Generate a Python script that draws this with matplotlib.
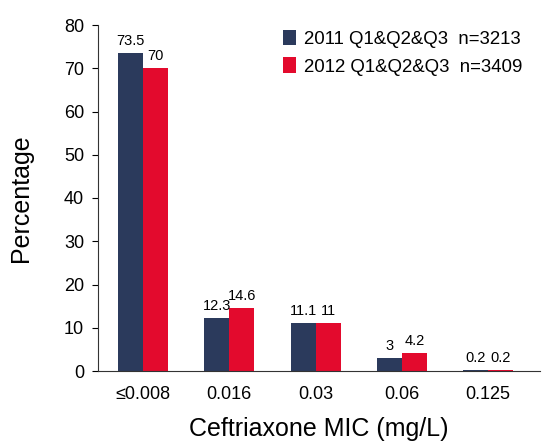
import matplotlib
matplotlib.use("Agg")
import matplotlib.pyplot as plt
import numpy as np

plt.rcParams['font.family'] = ['Liberation Sans', 'DejaVu Sans']

categories = ["≤0.008", "0.016", "0.03", "0.06", "0.125"]
vals_2011 = [73.5, 12.3, 11.1, 3, 0.2]
vals_2012 = [70, 14.6, 11, 4.2, 0.2]
labels_2011 = ["73.5", "12.3", "11.1", "3", "0.2"]
labels_2012 = ["70", "14.6", "11", "4.2", "0.2"]
series_names = ["2011 Q1&Q2&Q3  n=3213", "2012 Q1&Q2&Q3  n=3409"]

c1 = "#2b3a5c"
c2 = "#e30a2d"

fig = plt.figure(figsize=(5.42, 4.43), dpi=100)
ax = fig.add_axes([98/542, 72/443, 442/542, 346/443])

x = np.arange(len(categories))
w = 0.29
b1 = ax.bar(x - w/2, vals_2011, w, color=c1, label=series_names[0])
b2 = ax.bar(x + w/2, vals_2012, w, color=c2, label=series_names[1])

for rect, t in zip(b1, labels_2011):
    ax.text(rect.get_x() + rect.get_width()/2, rect.get_height() + 1.2, t,
            ha='center', va='bottom', fontsize=10.5)
for rect, t in zip(b2, labels_2012):
    ax.text(rect.get_x() + rect.get_width()/2, rect.get_height() + 1.2, t,
            ha='center', va='bottom', fontsize=10.5)

ax.set_xlim(-0.52, 4.6)
ax.set_ylim(0, 80)
ax.set_yticks(range(0, 81, 10))
ax.set_xticks(x)
ax.set_xticklabels(categories)
ax.tick_params(axis='x', length=0, labelsize=13, pad=11)
ax.tick_params(axis='y', length=4, labelsize=13, direction='out', pad=6)
ax.spines['top'].set_visible(False)
ax.spines['right'].set_visible(False)
ax.spines['left'].set_color('#333333')
ax.spines['bottom'].set_color('#333333')

ax.set_ylabel("Percentage", fontsize=18, labelpad=22)
ax.set_xlabel("Ceftriaxone MIC (mg/L)", fontsize=18, labelpad=10)

ax.legend(loc='upper left', bbox_to_anchor=(283/542, 1 - 30/443),
          bbox_transform=fig.transFigure, frameon=False, borderpad=0,
          borderaxespad=0, fontsize=13.4, handlelength=0.7, handleheight=0.9,
          handletextpad=0.43, labelspacing=0.5)

fig.savefig("out.png", dpi=100)
